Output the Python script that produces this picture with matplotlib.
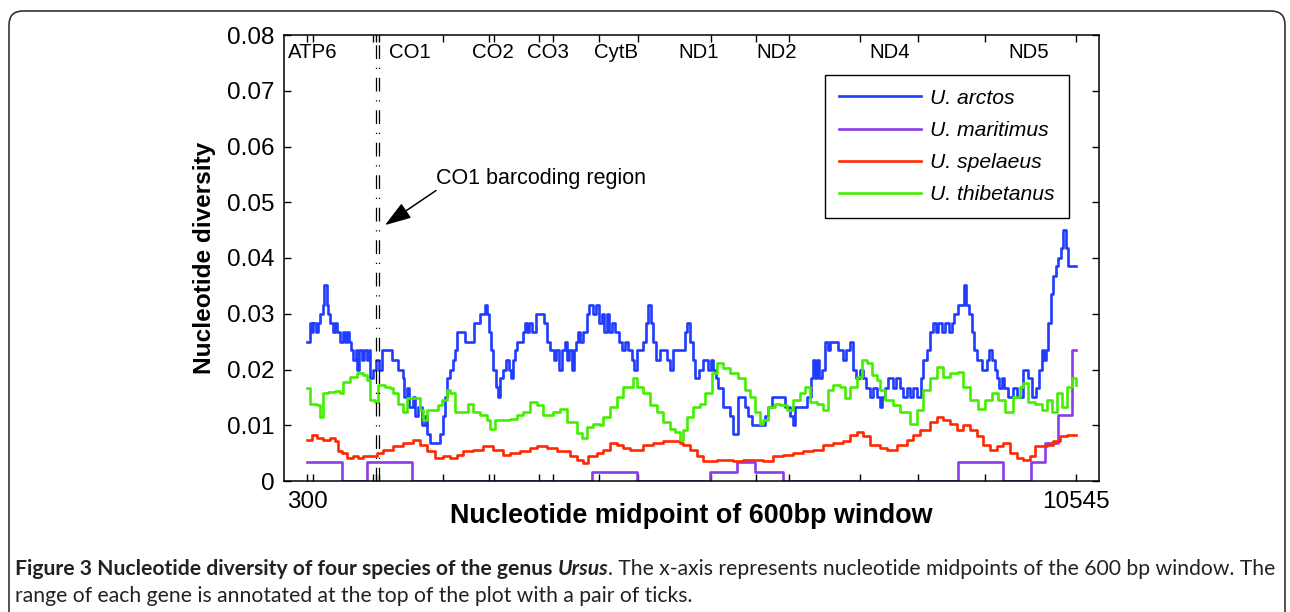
import matplotlib
matplotlib.use("Agg")
import matplotlib.pyplot as plt
from matplotlib.patches import FancyBboxPatch
from matplotlib.transforms import IdentityTransform

plt.rcParams["font.family"] = ["Liberation Sans", "DejaVu Sans"]

# ---- data ----
arctos_x = [304, 340, 362, 384, 420, 451, 473, 509, 526, 562, 584, 606, 642, 673, 695, 740, 775, 806, 837, 864,
            882, 917, 953, 970, 997, 1028, 1059, 1095, 1121, 1139, 1184, 1219, 1255, 1295, 1428, 1517, 1574, 1596, 1628, 1663,
            1707, 1739, 1783, 1827, 1872, 1894, 1938, 2072, 2107, 2138, 2160, 2205, 2240, 2271, 2302, 2405, 2524, 2604, 2671, 2702,
            2729, 2755, 2782, 2817, 2848, 2871, 2906, 2951, 2986, 3013, 3039, 3071, 3102, 3173, 3199, 3235, 3261, 3292, 3350, 3457,
            3492, 3537, 3590, 3617, 3652, 3697, 3732, 3759, 3794, 3825, 3856, 3883, 3914, 3936, 3972, 4034, 4061, 4114, 4150, 4194,
            4225, 4256, 4292, 4327, 4358, 4403, 4460, 4496, 4531, 4580, 4625, 4656, 4691, 4771, 4815, 4838, 4878, 4904, 4949, 5002,
            5100, 5135, 5171, 5268, 5335, 5366, 5401, 5437, 5468, 5526, 5579, 5645, 5676, 5712, 5748, 5779, 5845, 5934, 5978, 6045,
            6134, 6178, 6223, 6400, 6445, 6489, 6667, 6733, 6778, 6800, 6955, 7008, 7035, 7062, 7088, 7124, 7155, 7199, 7244, 7266,
            7377, 7444, 7479, 7532, 7568, 7612, 7666, 7701, 7746, 7799, 7843, 7896, 7932, 7959, 7999, 8043, 8110, 8145, 8198, 8243,
            8287, 8332, 8376, 8420, 8474, 8509, 8554, 8598, 8634, 8678, 8709, 8753, 8798, 8856, 8887, 8918, 8975, 9051, 9078, 9122,
            9153, 9184, 9220, 9286, 9353, 9388, 9420, 9464, 9495, 9522, 9553, 9584, 9641, 9708, 9752, 9832, 9908, 9952, 10010, 10054,
            10085, 10116, 10143, 10174, 10205, 10241, 10276, 10307, 10338, 10374, 10409, 10441, 10545]
arctos_y = [0.0250, 0.0283, 0.0268, 0.0283, 0.0268, 0.0283, 0.0300, 0.0316, 0.0352, 0.0316, 0.0300, 0.0283, 0.0268, 0.0283, 0.0268, 0.0250, 0.0268, 0.0250, 0.0268, 0.0250,
            0.0235, 0.0217, 0.0235, 0.0200, 0.0235, 0.0217, 0.0235, 0.0217, 0.0235, 0.0184, 0.0200, 0.0217, 0.0200, 0.0235, 0.0217, 0.0200, 0.0184, 0.0151, 0.0167, 0.0133,
            0.0151, 0.0117, 0.0133, 0.0100, 0.0117, 0.0085, 0.0068, 0.0085, 0.0117, 0.0151, 0.0184, 0.0200, 0.0217, 0.0235, 0.0268, 0.0250, 0.0283, 0.0300, 0.0316, 0.0300,
            0.0268, 0.0235, 0.0200, 0.0168, 0.0151, 0.0184, 0.0200, 0.0217, 0.0200, 0.0184, 0.0217, 0.0235, 0.0250, 0.0268, 0.0283, 0.0268, 0.0283, 0.0268, 0.0300, 0.0283,
            0.0250, 0.0235, 0.0217, 0.0235, 0.0200, 0.0235, 0.0250, 0.0217, 0.0235, 0.0200, 0.0235, 0.0250, 0.0268, 0.0250, 0.0268, 0.0300, 0.0316, 0.0300, 0.0316, 0.0283,
            0.0300, 0.0268, 0.0300, 0.0268, 0.0283, 0.0268, 0.0250, 0.0235, 0.0250, 0.0235, 0.0217, 0.0200, 0.0235, 0.0250, 0.0283, 0.0316, 0.0283, 0.0250, 0.0217, 0.0235,
            0.0217, 0.0200, 0.0235, 0.0235, 0.0268, 0.0283, 0.0250, 0.0217, 0.0184, 0.0200, 0.0217, 0.0200, 0.0217, 0.0200, 0.0184, 0.0167, 0.0133, 0.0117, 0.0085, 0.0151,
            0.0133, 0.0117, 0.0100, 0.0117, 0.0133, 0.0151, 0.0133, 0.0117, 0.0100, 0.0133, 0.0151, 0.0184, 0.0217, 0.0184, 0.0217, 0.0184, 0.0200, 0.0250, 0.0235, 0.0250,
            0.0235, 0.0217, 0.0235, 0.0250, 0.0200, 0.0184, 0.0200, 0.0184, 0.0167, 0.0151, 0.0167, 0.0151, 0.0133, 0.0151, 0.0167, 0.0184, 0.0167, 0.0184, 0.0167, 0.0151,
            0.0167, 0.0151, 0.0167, 0.0151, 0.0184, 0.0217, 0.0235, 0.0268, 0.0283, 0.0268, 0.0283, 0.0268, 0.0283, 0.0268, 0.0283, 0.0300, 0.0316, 0.0352, 0.0316, 0.0300,
            0.0268, 0.0235, 0.0217, 0.0200, 0.0217, 0.0235, 0.0217, 0.0200, 0.0184, 0.0167, 0.0184, 0.0167, 0.0151, 0.0167, 0.0151, 0.0200, 0.0184, 0.0151, 0.0167, 0.0200,
            0.0235, 0.0217, 0.0235, 0.0283, 0.0335, 0.0367, 0.0385, 0.0400, 0.0418, 0.0450, 0.0418, 0.0385, 0.0385]

maritimus_x = [300, 762, 1095, 1695, 4092, 4692, 5668, 6028, 6267, 6636, 8971, 9571, 9944, 10131, 10303, 10490, 10545]
maritimus_y = [0.0034, 0.0, 0.0034, 0.0, 0.0017, 0.0, 0.0017, 0.0034, 0.0017, 0.0, 0.0034, 0.0, 0.0034, 0.0068, 0.0118, 0.0235, 0.0235]

spelaeus_x = [304, 362, 429, 518, 606, 673, 717, 762, 828, 917, 984, 1050, 1139, 1228, 1317, 1450, 1583, 1716, 1805, 1894,
              2005, 2116, 2205, 2294, 2382, 2516, 2649, 2782, 2915, 3004, 3137, 3270, 3359, 3492, 3625, 3714, 3803, 3892, 3981, 4047,
              4158, 4247, 4336, 4425, 4514, 4602, 4691, 4780, 4913, 5046, 5180, 5268, 5312, 5401, 5490, 5579, 5668, 5756, 5845, 5978,
              6112, 6245, 6378, 6511, 6644, 6778, 6911, 7044, 7177, 7310, 7444, 7532, 7621, 7710, 7799, 7932, 8021, 8154, 8287, 8376,
              8465, 8598, 8687, 8776, 8864, 8953, 9042, 9131, 9220, 9309, 9397, 9486, 9575, 9664, 9752, 9841, 9930, 9997, 10063, 10152,
              10241, 10330, 10418, 10545]
spelaeus_y = [0.0074, 0.0083, 0.0077, 0.0074, 0.0077, 0.0071, 0.0053, 0.0050, 0.0041, 0.0044, 0.0041, 0.0044, 0.0044, 0.0050, 0.0056, 0.0062, 0.0068, 0.0074, 0.0065, 0.0053,
              0.0041, 0.0044, 0.0041, 0.0047, 0.0053, 0.0056, 0.0062, 0.0056, 0.0047, 0.0050, 0.0053, 0.0059, 0.0062, 0.0059, 0.0053, 0.0053, 0.0044, 0.0038, 0.0032, 0.0044,
              0.0050, 0.0056, 0.0068, 0.0065, 0.0059, 0.0056, 0.0056, 0.0065, 0.0068, 0.0071, 0.0071, 0.0068, 0.0065, 0.0056, 0.0044, 0.0035, 0.0035, 0.0038, 0.0038, 0.0035,
              0.0038, 0.0038, 0.0035, 0.0044, 0.0047, 0.0050, 0.0053, 0.0056, 0.0065, 0.0068, 0.0071, 0.0083, 0.0088, 0.0080, 0.0065, 0.0059, 0.0056, 0.0065, 0.0074, 0.0083,
              0.0091, 0.0106, 0.0115, 0.0109, 0.0103, 0.0091, 0.0100, 0.0091, 0.0080, 0.0065, 0.0056, 0.0062, 0.0068, 0.0050, 0.0041, 0.0038, 0.0044, 0.0062, 0.0062, 0.0065,
              0.0071, 0.0080, 0.0083, 0.0083]

thibetanus_x = [304, 340, 429, 473, 518, 584, 673, 740, 784, 873, 962, 1050, 1095, 1139, 1206, 1250, 1339, 1406, 1450, 1517,
                1583, 1628, 1739, 1805, 1850, 1894, 1983, 2049, 2094, 2160, 2205, 2271, 2427, 2449, 2516, 2604, 2693, 2737, 2804, 3004,
                3093, 3181, 3270, 3359, 3448, 3581, 3670, 3759, 3825, 3892, 3958, 4025, 4114, 4203, 4247, 4336, 4425, 4514, 4602, 4647,
                4691, 4780, 4869, 4958, 5046, 5135, 5202, 5268, 5312, 5357, 5446, 5534, 5601, 5690, 5756, 5845, 5934, 6045, 6134, 6200,
                6267, 6334, 6378, 6445, 6533, 6600, 6689, 6778, 6866, 6933, 7000, 7088, 7177, 7244, 7310, 7399, 7466, 7532, 7621, 7688,
                7754, 7821, 7888, 7932, 7999, 8110, 8198, 8332, 8420, 8509, 8598, 8687, 8776, 8864, 8975, 9042, 9131, 9242, 9331, 9420,
                9508, 9597, 9708, 9797, 9841, 9908, 9997, 10085, 10152, 10219, 10285, 10352, 10418, 10485, 10545]
thibetanus_y = [0.0166, 0.0139, 0.0136, 0.0115, 0.0157, 0.0160, 0.0161, 0.0157, 0.0178, 0.0187, 0.0193, 0.0191, 0.0181, 0.0145, 0.0142, 0.0172, 0.0169, 0.0167, 0.0157, 0.0139,
                0.0124, 0.0148, 0.0148, 0.0127, 0.0109, 0.0127, 0.0127, 0.0136, 0.0145, 0.0163, 0.0157, 0.0124, 0.0124, 0.0139, 0.0124, 0.0118, 0.0109, 0.0094, 0.0109, 0.0112,
                0.0118, 0.0124, 0.0142, 0.0136, 0.0118, 0.0124, 0.0130, 0.0106, 0.0106, 0.0086, 0.0077, 0.0097, 0.0103, 0.0100, 0.0115, 0.0133, 0.0151, 0.0169, 0.0169, 0.0184,
                0.0169, 0.0157, 0.0136, 0.0124, 0.0106, 0.0094, 0.0088, 0.0074, 0.0091, 0.0115, 0.0133, 0.0139, 0.0157, 0.0193, 0.0211, 0.0202, 0.0193, 0.0184, 0.0163, 0.0151,
                0.0124, 0.0103, 0.0109, 0.0133, 0.0139, 0.0136, 0.0127, 0.0145, 0.0157, 0.0169, 0.0142, 0.0139, 0.0127, 0.0163, 0.0172, 0.0169, 0.0148, 0.0169, 0.0187, 0.0217,
                0.0211, 0.0190, 0.0181, 0.0163, 0.0145, 0.0136, 0.0124, 0.0103, 0.0127, 0.0163, 0.0184, 0.0205, 0.0187, 0.0193, 0.0196, 0.0169, 0.0145, 0.0130, 0.0145, 0.0157,
                0.0145, 0.0124, 0.0151, 0.0169, 0.0175, 0.0142, 0.0139, 0.0127, 0.0145, 0.0124, 0.0157, 0.0133, 0.0169, 0.0184, 0.0172]

species = ["U. arctos", "U. maritimus", "U. spelaeus", "U. thibetanus"]

gene_names = ["ATP6", "CO1", "CO2", "CO3", "CytB", "ND1", "ND2", "ND4", "ND5"]
gene_label_x = [380, 1672, 2778, 3510, 4416, 5521, 6560, 8066, 9917]
gene_ticks = [300, 376, 1183, 1219, 1263, 2116, 2724, 2795, 3394, 3573, 4189, 4713, 5677, 6281, 6716, 7666, 8439, 9335, 10545]
barcode_bounds = [1219, 1263]

yticks = [0, 0.01, 0.02, 0.03, 0.04, 0.05, 0.06, 0.07, 0.08]
ytick_labels = ["0", "0.01", "0.02", "0.03", "0.04", "0.05", "0.06", "0.07", "0.08"]

W, H = 1290, 612
fig = plt.figure(figsize=(W / 100, H / 100), dpi=100)
ax = fig.add_axes([284 / W, 1 - 481 / H, (1099 - 284) / W, (481 - 35) / H])

lw = 1.9
ax.plot(arctos_x, arctos_y, color="#1f3cff", lw=lw, drawstyle="steps-post", label=species[0])
ax.plot(maritimus_x, maritimus_y, color="#8c3ce6", lw=lw, drawstyle="steps-post", label=species[1])
ax.plot(spelaeus_x, spelaeus_y, color="#ff2800", lw=lw, drawstyle="steps-post", label=species[2])
ax.plot(thibetanus_x, thibetanus_y, color="#44ee00", lw=lw, drawstyle="steps-post", label=species[3])

for xb in barcode_bounds:
    ax.axvline(xb, color="k", lw=0.9, ls=(0, (11, 7, 1, 7)))

ax.set_xlim(-6, 10849)
ax.set_ylim(0, 0.08)
ax.set_xticks(gene_ticks)
ax.set_xticklabels(["300"] + [""] * (len(gene_ticks) - 2) + ["10545"])
ax.set_yticks(yticks)
ax.set_yticklabels(ytick_labels)
ax.tick_params(axis="both", direction="in", top=True, right=True, length=5, width=1,
               labelsize=17.5, pad=7)
for s in ax.spines.values():
    s.set_linewidth(1.1)

for name, gx in zip(gene_names, gene_label_x):
    ax.text(gx, 0.0769, name, ha="center", va="center", fontsize=14.7)

ax.annotate("", xy=(1339, 0.0459), xytext=(2018, 0.0521),
            arrowprops=dict(arrowstyle="-|>,head_length=0.9,head_width=0.3", color="k",
                            lw=1.1, mutation_scale=18, shrinkA=0, shrinkB=0))
ax.text(2018, 0.0542, "CO1 barcoding region", ha="left", va="center", fontsize=15.5)

leg = ax.legend(loc="upper right", bbox_to_anchor=(0.963, 0.910), borderaxespad=0,
                fancybox=False, edgecolor="k", framealpha=1,
                prop={"style": "italic", "size": 15.2}, handlelength=3.9,
                handletextpad=0.45, labelspacing=0.62, borderpad=0.65)
leg.get_frame().set_linewidth(1.0)

fig.text(205 / W, 1 - 258 / H, "Nucleotide diversity", rotation=90, ha="center", va="center",
         fontsize=17.6, fontweight="bold")
fig.text(691 / W, 1 - 516 / H, "Nucleotide midpoint of 600bp window", ha="center", va="center",
         fontsize=19.4, fontweight="bold")

# outer rounded frame
frame = FancyBboxPatch((9, -40), 1276, 641, boxstyle="round,pad=0,rounding_size=14",
                       transform=IdentityTransform(), fill=False, ec="#333333", lw=1.2)
fig.patches.append(frame)

# caption, pieced together and fitted to the line width
cap_font = "Lato"
line1 = [("Figure 3 Nucleotide diversity of four species of the genus ", "bold", "normal"),
         ("Ursus", "bold", "italic"),
         (". The x-axis represents nucleotide midpoints of the 600 bp window. The", "normal", "normal")]
line2 = [("range of each gene is annotated at the top of the plot with a pair of ticks.", "normal", "normal")]
renderer = fig.canvas.get_renderer()


def draw_line(pieces, x0, y0, size):
    x = x0
    out = []
    for txt, wt, st in pieces:
        t = fig.text(x, y0, txt, transform=IdentityTransform(), fontsize=size, fontweight=wt,
                     fontstyle=st, family=cap_font, color="#222222", va="baseline")
        x += t.get_window_extent(renderer).width
        out.append(t)
    return x - x0, out


width, texts = draw_line(line1, 15, H - 575, 10)
for t in texts:
    t.remove()
size = 10 * 1260 / width
draw_line(line1, 15, H - 575, size)
draw_line(line2, 15, H - 602, size)

fig.savefig("out.png", dpi=100)
